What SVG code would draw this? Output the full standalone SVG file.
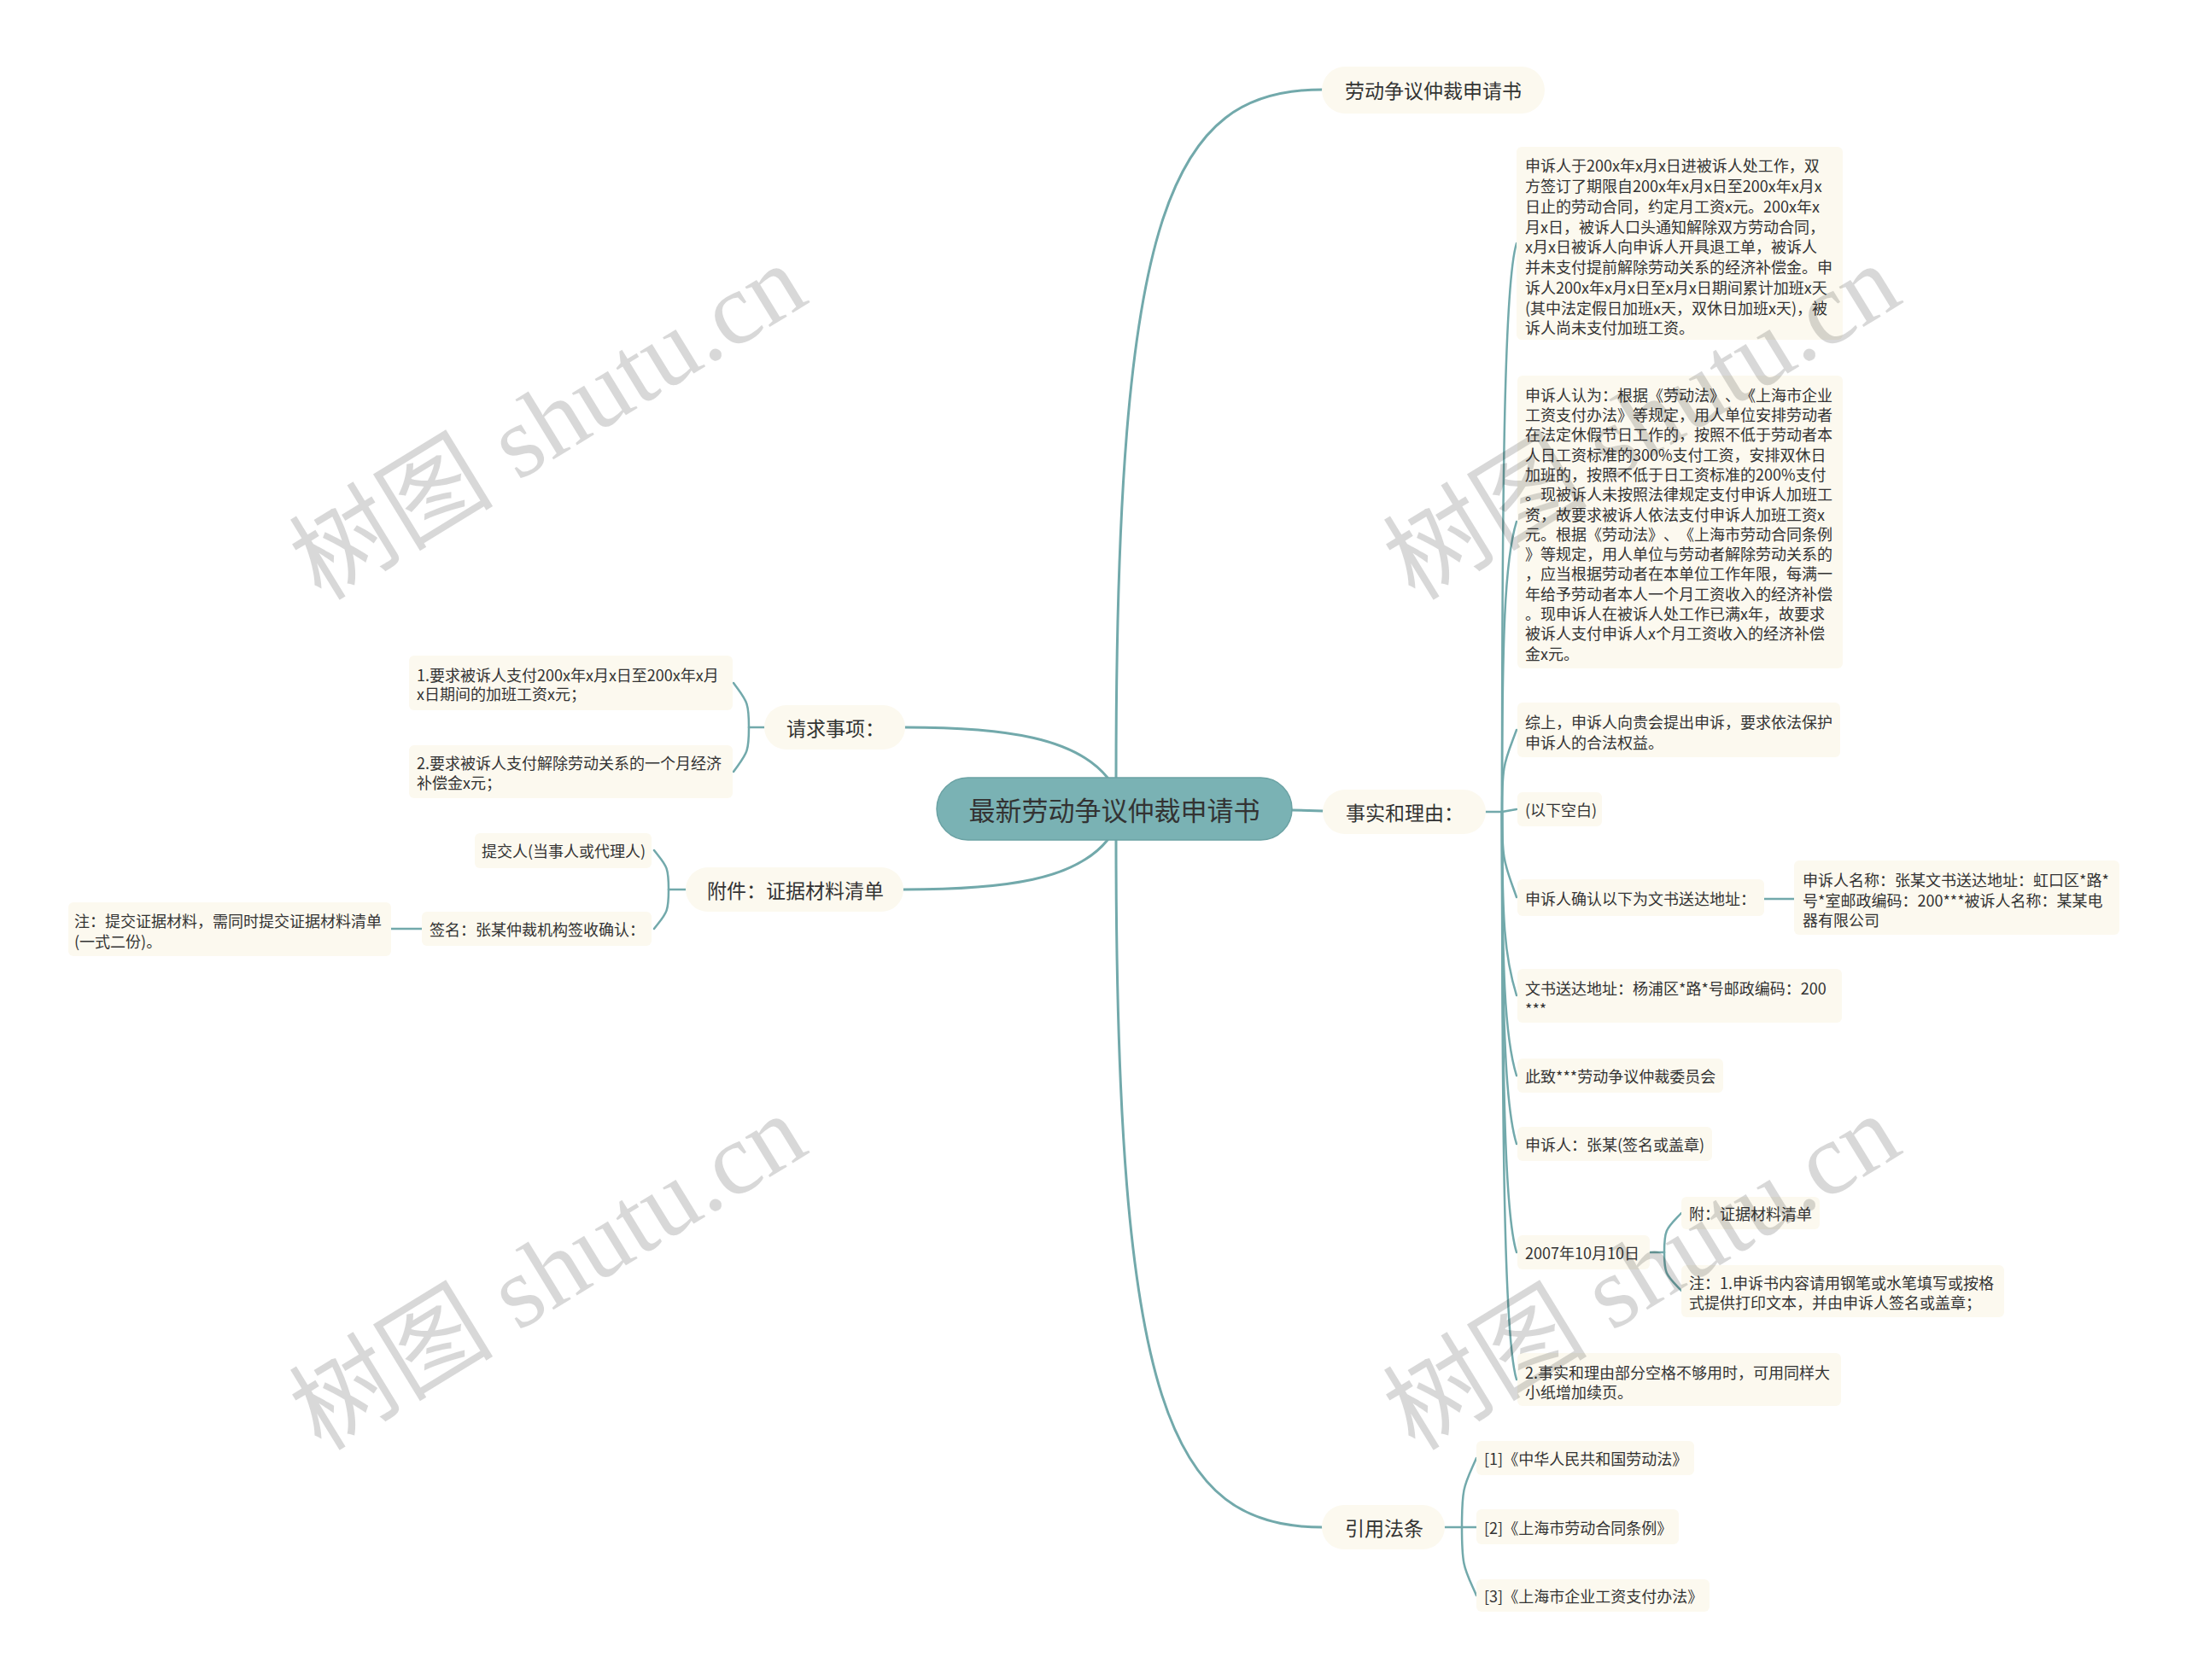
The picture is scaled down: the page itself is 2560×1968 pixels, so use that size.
<svg xmlns="http://www.w3.org/2000/svg" width="2560" height="1968" viewBox="0 0 2560 1968">
<style>
.bx{fill:#FCF9EF;}
.t{font-family:"Noto Sans CJK SC","Noto Sans",sans-serif;fill:#333333;dominant-baseline:central;text-spacing-trim:space-all;}
.t1{font-size:23px;}
.t2{font-size:18px;}
.c{fill:none;stroke:#72A9AB;stroke-width:2.5;stroke-linecap:round;}
.c0{fill:none;stroke:#72A9AB;stroke-width:3;stroke-linecap:round;}
.wm{font-family:"Liberation Serif","Noto Sans CJK SC",serif;font-size:120px;fill:#000;opacity:0.15;}
</style>
<rect width="2560" height="1968" fill="#FFFFFF"/>
<g id="connectors">
<path class="c0" d="M1307,911 C1307,250 1370,105 1548,105"/>
<path class="c0" d="M1307,984 C1307,1645 1370,1789 1548,1789"/>
<path class="c0" d="M1513,949 L1549,950"/>
<path class="c0" d="M1297,911 C1260,865 1180,852 1060,852"/>
<path class="c0" d="M1297,984 C1260,1030 1180,1042 1058,1042"/>
<path class="c" d="M1740,951 H1759"/>
<path class="c" d="M1759,951 C1759,551 1762,330 1776,285"/>
<path class="c" d="M1759,951 C1759,747 1762,656 1776,611"/>
<path class="c" d="M1759,951 C1759,893 1762,893 1776,855"/>
<path class="c" d="M1759,951 L1776,948"/>
<path class="c" d="M1759,951 C1759,1011 1762,1011 1776,1051"/>
<path class="c" d="M1759,951 C1759,1080 1762,1121 1776,1166"/>
<path class="c" d="M1759,951 C1759,1136 1762,1215 1776,1260"/>
<path class="c" d="M1759,951 C1759,1184 1762,1295 1776,1340"/>
<path class="c" d="M1759,951 C1759,1261 1762,1422 1776,1467"/>
<path class="c" d="M1759,951 C1759,1350 1762,1571 1776,1616"/>
<path class="c" d="M2066,1053 H2101"/>
<path class="c" d="M1932,1467 H1949"/>
<path class="c" d="M1949,1467 C1949,1439 1952,1439 1969,1421"/>
<path class="c" d="M1949,1467 C1949,1494 1952,1494 1969,1512"/>
<path class="c" d="M1692,1789 H1712"/>
<path class="c" d="M1712,1789 C1712,1740 1715,1740 1729,1708"/>
<path class="c" d="M1712,1789 H1729"/>
<path class="c" d="M1712,1789 C1712,1837 1715,1837 1729,1869"/>
<path class="c" d="M895,852 H877"/>
<path class="c" d="M877,852 C877,821 874,821 859,800"/>
<path class="c" d="M877,852 C877,883 874,883 859,904"/>
<path class="c" d="M803,1042 H783"/>
<path class="c" d="M783,1042 C783,1014 780,1014 766,996"/>
<path class="c" d="M783,1042 C783,1070 780,1070 766,1088"/>
<path class="c" d="M494,1088 H458"/>
</g>
<g id="root">
<rect x="1097" y="911" width="416" height="73" rx="36.5" fill="#7AB2B4" stroke="#6BA2A4" stroke-width="1.5"/>
<text class="t" x="1305" y="947.5" font-size="31" text-anchor="middle">最新劳动争议仲裁申请书</text>
</g>
<g id="n-title">
<rect class="bx" x="1548" y="78" width="261" height="55" rx="27.5"/>
<text class="t t1" x="1678.5" y="105" text-anchor="middle">劳动争议仲裁申请书</text>
</g>
<g id="n-fact">
<rect class="bx" x="1549" y="925" width="191" height="52" rx="26"/>
<text class="t t1" x="1576" y="951">事实和理由：</text>
</g>
<g id="n-req">
<rect class="bx" x="895" y="826" width="165" height="52" rx="26"/>
<text class="t t1" x="921" y="852">请求事项：</text>
</g>
<g id="n-att">
<rect class="bx" x="803" y="1016" width="255" height="52" rx="26"/>
<text class="t t1" x="828" y="1042">附件：证据材料清单</text>
</g>
<g id="n-law">
<rect class="bx" x="1548" y="1763" width="144" height="52" rx="26"/>
<text class="t t1" x="1575" y="1789">引用法条</text>
</g>
<g id="f1">
<rect class="bx" x="1776" y="172" width="382" height="226" rx="6"/>
<text class="t t2">
<tspan x="1786" y="193.3">申诉人于200x年x月x日进被诉人处工作，双</tspan>
<tspan x="1786" y="217">方签订了期限自200x年x月x日至200x年x月x</tspan>
<tspan x="1786" y="240.8">日止的劳动合同，约定月工资x元。200x年x</tspan>
<tspan x="1786" y="264.5">月x日，被诉人口头通知解除双方劳动合同，</tspan>
<tspan x="1786" y="288.3">x月x日被诉人向申诉人开具退工单，被诉人</tspan>
<tspan x="1786" y="312">并未支付提前解除劳动关系的经济补偿金。申</tspan>
<tspan x="1786" y="335.8">诉人200x年x月x日至x月x日期间累计加班x天</tspan>
<tspan x="1786" y="359.5">(其中法定假日加班x天，双休日加班x天)，被</tspan>
<tspan x="1786" y="383.3">诉人尚未支付加班工资。</tspan>
</text>
</g>
<g id="f2">
<rect class="bx" x="1777" y="440" width="381" height="343" rx="6"/>
<text class="t t2">
<tspan x="1786" y="461.7">申诉人认为：根据《劳动法》、《上海市企业</tspan>
<tspan x="1786" y="485">工资支付办法》等规定，用人单位安排劳动者</tspan>
<tspan x="1786" y="508.3">在法定休假节日工作的，按照不低于劳动者本</tspan>
<tspan x="1786" y="531.6">人日工资标准的300%支付工资，安排双休日</tspan>
<tspan x="1786" y="554.9">加班的，按照不低于日工资标准的200%支付</tspan>
<tspan x="1786" y="578.2">。现被诉人未按照法律规定支付申诉人加班工</tspan>
<tspan x="1786" y="601.5">资，故要求被诉人依法支付申诉人加班工资x</tspan>
<tspan x="1786" y="624.8">元。根据《劳动法》、《上海市劳动合同条例</tspan>
<tspan x="1786" y="648.1">》等规定，用人单位与劳动者解除劳动关系的</tspan>
<tspan x="1786" y="671.4">，应当根据劳动者在本单位工作年限，每满一</tspan>
<tspan x="1786" y="694.7">年给予劳动者本人一个月工资收入的经济补偿</tspan>
<tspan x="1786" y="718">。现申诉人在被诉人处工作已满x年，故要求</tspan>
<tspan x="1786" y="741.3">被诉人支付申诉人x个月工资收入的经济补偿</tspan>
<tspan x="1786" y="764.6">金x元。</tspan>
</text>
</g>
<g id="f3">
<rect class="bx" x="1777" y="823" width="378" height="64" rx="6"/>
<text class="t t2"><tspan x="1786" y="845">综上，申诉人向贵会提出申诉，要求依法保护</tspan><tspan x="1786" y="869">申诉人的合法权益。</tspan></text>
</g>
<g id="f4">
<rect class="bx" x="1777" y="928" width="99" height="40" rx="6"/>
<text class="t t2" x="1786" y="948">(以下空白)</text>
</g>
<g id="f5">
<rect class="bx" x="1777" y="1030" width="289" height="43" rx="6"/>
<text class="t t2" x="1786" y="1052">申诉人确认以下为文书送达地址：</text>
</g>
<g id="f5a">
<rect class="bx" x="2101" y="1008" width="381" height="87" rx="6"/>
<text class="t t2"><tspan x="2111" y="1030">申诉人名称：张某文书送达地址：虹口区*路*</tspan><tspan x="2111" y="1053.5">号*室邮政编码：200***被诉人名称：某某电</tspan><tspan x="2111" y="1077">器有限公司</tspan></text>
</g>
<g id="f6">
<rect class="bx" x="1777" y="1135" width="380" height="63" rx="6"/>
<text class="t t2"><tspan x="1786" y="1157">文书送达地址：杨浦区*路*号邮政编码：200</tspan><tspan x="1786" y="1181">***</tspan></text>
</g>
<g id="f7">
<rect class="bx" x="1777" y="1240" width="241" height="40" rx="6"/>
<text class="t t2" x="1786" y="1260">此致***劳动争议仲裁委员会</text>
</g>
<g id="f8">
<rect class="bx" x="1777" y="1320" width="228" height="40" rx="6"/>
<text class="t t2" x="1786" y="1340">申诉人：张某(签名或盖章)</text>
</g>
<g id="f9">
<rect class="bx" x="1777" y="1447" width="155" height="40" rx="6"/>
<text class="t t2" x="1786" y="1467">2007年10月10日</text>
</g>
<g id="f9a">
<rect class="bx" x="1969" y="1402" width="162" height="38" rx="6"/>
<text class="t t2" x="1978" y="1421">附：证据材料清单</text>
</g>
<g id="f9b">
<rect class="bx" x="1969" y="1482" width="378" height="61" rx="6"/>
<text class="t t2"><tspan x="1978" y="1502">注：1.申诉书内容请用钢笔或水笔填写或按格</tspan><tspan x="1978" y="1525">式提供打印文本，并由申诉人签名或盖章；</tspan></text>
</g>
<g id="f10">
<rect class="bx" x="1777" y="1585" width="379" height="62" rx="6"/>
<text class="t t2"><tspan x="1786" y="1607">2.事实和理由部分空格不够用时，可用同样大</tspan><tspan x="1786" y="1630">小纸增加续页。</tspan></text>
</g>
<g id="l1">
<rect class="bx" x="1729" y="1688" width="255" height="40" rx="6"/>
<text class="t t2" x="1738" y="1708">[1]《中华人民共和国劳动法》</text>
</g>
<g id="l2">
<rect class="bx" x="1729" y="1768" width="237" height="41" rx="6"/>
<text class="t t2" x="1738" y="1789">[2]《上海市劳动合同条例》</text>
</g>
<g id="l3">
<rect class="bx" x="1729" y="1850" width="273" height="38" rx="6"/>
<text class="t t2" x="1738" y="1869">[3]《上海市企业工资支付办法》</text>
</g>
<g id="r1">
<rect class="bx" x="479" y="768" width="379" height="64" rx="6"/>
<text class="t t2"><tspan x="488" y="790">1.要求被诉人支付200x年x月x日至200x年x月</tspan><tspan x="488" y="812">x日期间的加班工资x元；</tspan></text>
</g>
<g id="r2">
<rect class="bx" x="479" y="873" width="379" height="62" rx="6"/>
<text class="t t2"><tspan x="488" y="893">2.要求被诉人支付解除劳动关系的一个月经济</tspan><tspan x="488" y="916">补偿金x元；</tspan></text>
</g>
<g id="a1">
<rect class="bx" x="556" y="976" width="207" height="41" rx="6"/>
<text class="t t2" x="564" y="996">提交人(当事人或代理人)</text>
</g>
<g id="a2">
<rect class="bx" x="494" y="1068" width="269" height="40" rx="6"/>
<text class="t t2" x="503" y="1088">签名：张某仲裁机构签收确认：</text>
</g>
<g id="a2a">
<rect class="bx" x="80" y="1057" width="378" height="63" rx="6"/>
<text class="t t2"><tspan x="87" y="1078">注：提交证据材料，需同时提交证据材料清单</tspan><tspan x="87" y="1102">(一式二份)。</tspan></text>
</g>
<g id="watermarks">
<text class="wm" transform="translate(376,705) rotate(-31.5)">树图 shutu.cn</text>
<text class="wm" transform="translate(1657,705) rotate(-31.5)">树图 shutu.cn</text>
<text class="wm" transform="translate(376,1701) rotate(-31.5)">树图 shutu.cn</text>
<text class="wm" transform="translate(1657,1701) rotate(-31.5)">树图 shutu.cn</text>
</g>
</svg>
